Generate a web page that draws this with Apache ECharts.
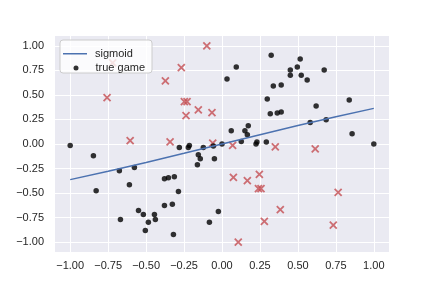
<!DOCTYPE html>
<html><head><meta charset="utf-8">
<script src="https://cdn.jsdelivr.net/npm/echarts@6/dist/echarts.min.js"></script>
<style>html,body{margin:0;padding:0;background:#fff}#c{width:432px;height:288px}</style>
</head><body><div id="c"></div>
<script>
var xTicks = [-1, -0.75, -0.5, -0.25, 0, 0.25, 0.5, 0.75, 1];
var yTicks = [-1, -0.75, -0.5, -0.25, 0, 0.25, 0.5, 0.75, 1];
var sigmoidX = [-1, -0.75, -0.5, -0.25, 0, 0.25, 0.5, 0.75, 1];
var sigmoidY = [-0.363, -0.277, -0.188, -0.095, 0, 0.095, 0.188, 0.277, 0.363];
var trueGame = [
[-1.0,-0.015],[-0.215,-0.015],[-0.222,-0.036],[0,0],[0.033,0.662],[0.094,0.784],[0.324,0.905],
[0.515,0.865],[0.496,0.784],[0.45,0.753],[0.45,0.70],[0.522,0.70],[0.673,0.753],[0.561,0.652],
[0.338,0.591],[0.39,0.601],[0.298,0.459],[0.318,0.307],[0.364,0.317],[0.39,0.327],[0.62,0.388],
[0.838,0.449],[0.581,0.218],[0.686,0.246],[0.857,0.104],[1.0,0.0],[0.061,0.134],[0.151,0.134],
[0.173,0.185],[0.167,0.093],[0.127,0.025],[0.224,0.0],[0.23,0.02],[0.292,0.02],[-0.847,-0.12],
[-0.829,-0.475],[-0.676,-0.272],[-0.577,-0.239],[-0.61,-0.414],[-0.669,-0.77],[-0.55,-0.678],
[-0.518,-0.719],[-0.485,-0.797],[-0.505,-0.881],[-0.445,-0.719],[-0.439,-0.77],[-0.379,-0.353],
[-0.353,-0.343],[-0.314,-0.333],[-0.287,-0.485],[-0.379,-0.627],[-0.327,-0.614],[-0.32,-0.922],
[-0.281,-0.036],[-0.123,-0.036],[-0.156,-0.11],[-0.143,-0.15],[-0.162,-0.211],[-0.05,-0.15],
[-0.024,-0.688],[-0.083,-0.797],[-0.057,-0.02]
];
var wrongGame = [
[-0.1,1.0],[-0.268,0.777],[-0.373,0.642],[-0.757,0.472],[-0.72,0.827],[-0.248,0.431],[-0.23,0.431],
[-0.156,0.347],[-0.066,0.32],[-0.237,0.289],[-0.605,0.035],[-0.342,0.022],[-0.061,0.008],
[0.07,-0.015],[0.351,-0.029],[0.614,-0.05],[0.075,-0.34],[0.167,-0.374],[0.246,-0.31],
[0.24,-0.455],[0.257,-0.455],[0.765,-0.492],[0.384,-0.668],[0.279,-0.787],[0.733,-0.827],[0.107,-1.0]
];

function fmt(v){ return (v < 0 ? '\u2212' : '') + Math.abs(v).toFixed(2); }
var font = 'Liberation Sans, Arial, sans-serif';
var chart = echarts.init(document.getElementById('c'), null, {renderer:'canvas'});
chart.setOption({
  animation: false,
  backgroundColor: '#ffffff',
  grid: {left:55, right:43, top:36, bottom:36, show:true, backgroundColor:'#EAEAF2', borderWidth:0},
  xAxis: {type:'value', min:-1.1, max:1.1,
    axisLine:{show:false}, axisTick:{show:false, customValues:xTicks},
    axisLabel:{customValues:xTicks, formatter:fmt, color:'#262626', fontSize:11, fontFamily:font, margin:8},
    splitLine:{show:true, lineStyle:{color:'#ffffff', width:1}}},
  yAxis: {type:'value', min:-1.1, max:1.1,
    axisLine:{show:false}, axisTick:{show:false, customValues:yTicks},
    axisLabel:{customValues:yTicks, formatter:fmt, color:'#262626', fontSize:11, fontFamily:font, margin:11},
    splitLine:{show:true, lineStyle:{color:'#ffffff', width:1}}},
  graphic: [{type:'rect', z:10, shape:{x:60, y:40, width:92, height:33, r:3},
    style:{fill:'rgba(255,255,255,0.8)', stroke:'#cccccc', lineWidth:1}}],
  legend: [
    {data:[{name:'sigmoid', icon:'rect'}], left:63, top:48.25, padding:0, itemWidth:24, itemHeight:1.5, z:20,
      itemStyle:{color:'#4C72B0', borderWidth:0},
      textStyle:{color:'#262626', fontSize:11, fontFamily:font, padding:[0,0,0,3]}},
    {data:['true game'], left:73.5, top:62.5, padding:0, itemWidth:5, itemHeight:5, z:20, icon:'circle',
      textStyle:{color:'#262626', fontSize:11, fontFamily:font, padding:[0,0,0,12]}}
  ],
  series: [
    {name:'wrong', type:'scatter', data:wrongGame, symbol:'path://M0,0L10,10M10,0L0,10', symbolSize:7,
      itemStyle:{color:'rgba(0,0,0,0)', borderColor:'#C44E52', borderWidth:1.8}, z:3},
    {name:'true game', type:'scatter', data:trueGame, symbol:'circle', symbolSize:5.5,
      itemStyle:{color:'#000000'}, z:4},
    {name:'sigmoid', type:'line', data:sigmoidX.map(function(x,i){return [x, sigmoidY[i]];}),
      symbol:'none', lineStyle:{color:'#4C72B0', width:1.5}, itemStyle:{color:'#4C72B0'}, z:5}
  ]
});
</script></body></html>
